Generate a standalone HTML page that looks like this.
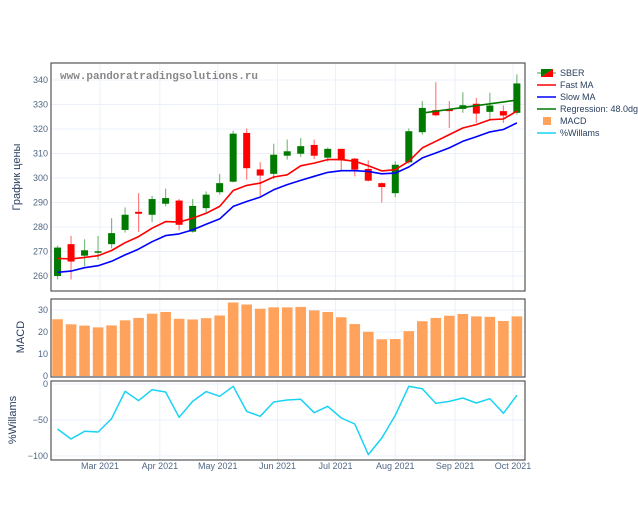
<!DOCTYPE html>
<html><head><meta charset="utf-8"><style>
html,body{margin:0;padding:0;background:#fff;}
svg{display:block;font-family:"Liberation Sans","DejaVu Sans",sans-serif;}
</style></head><body>
<svg id="chart" width="638" height="510" viewBox="0 0 638 510" xmlns="http://www.w3.org/2000/svg"></svg>
<script>
const startDate = "2021-02-07";
const opens  = [260,273,268.3,269.7,273,278.8,286.2,285,289.5,290.8,278.1,287.7,294.2,298.5,318.4,303.5,301.7,309.1,309.9,313.5,308.3,311.9,307.9,303.7,297.9,293.8,306.4,318.7,327.7,327.9,328.2,330.3,327,327.3,326.6];
const closes = [271.6,265.9,270.5,270.1,277.5,285,285.4,291.4,291.8,280.9,288.6,293.2,297.9,318.1,304,301,309.5,310.9,313,309.1,311.9,307.2,303.4,298.9,296.3,305.4,319.1,328.6,325.6,327.3,329.7,326.3,329.6,325.5,338.6];
const highs  = [272.4,276.4,275,276.4,283.6,288,293.8,292.7,295.7,291.4,291.4,294.5,301.7,319.3,320.2,306.5,314,315.7,316.3,315.7,312.4,311.9,308.2,307.2,298.2,306.8,320.2,331.4,339.1,331.4,335,332.7,334.8,329.6,342.3];
const lows   = [258.6,258.6,264,266.5,271.3,277.7,278,282,288.4,278.6,277.7,285.9,293.2,298.2,299.3,292.7,299.6,307.5,308.6,307.7,306.7,303.1,300.7,298.6,290,292.2,305.8,317.7,325.2,320.4,326.6,322.5,323.8,322.5,325.9];
const fastMA = [267.2,267,267.6,268.3,270.4,273.6,276.1,279.5,282.2,282,283.6,285.6,288.4,294.9,297,297.9,300.4,301.3,305,306.1,307.5,307.5,306.8,305,302.9,303.4,306.8,312.3,315,317.7,320.4,321.8,323.8,324.1,327.3];
const slowMA = [261.5,262,263.4,264.2,266,268.6,271,274,276.5,277.2,278.8,281.1,283.3,288.4,290.4,292.2,295.2,297.3,299,300.7,302.3,303,303,302.7,301.7,302,304.5,308.2,310.2,312.3,315,316.8,318.8,319.8,322.5];
const regIdx = [27,34];
const regVals = [326.5,331.8];
const macd = [25.8,23.5,22.9,22.1,23,25.3,26.4,28.3,29.1,26,25.7,26.3,27.5,33.4,32.5,30.6,31.2,31.2,31.4,29.8,29.1,26.7,23.6,20.1,16.7,16.8,20.4,24.9,26.4,27.4,28.2,27.1,26.9,25,27.1];
const willams = [-62.5,-76.4,-65.7,-66.7,-48.1,-10.2,-23.1,-7.9,-11.1,-46.3,-24.1,-10.6,-17.1,-3.2,-38,-44.9,-25,-22.2,-21.3,-39.8,-31,-47.2,-55.6,-98.1,-75,-43.5,-3.2,-6.5,-26.9,-24.1,-19.4,-26.4,-20.4,-40.7,-15.7];
const priceTicks = [260,270,280,290,300,310,320,330,340];
const macdTicks = [0,10,20,30];
const willTicks = [0,-50,-100];
const monthTicks = ["2021-03-01","2021-04-01","2021-05-01","2021-06-01","2021-07-01","2021-08-01","2021-09-01","2021-10-01"];
const monthLabels = ["Mar 2021","Apr 2021","May 2021","Jun 2021","Jul 2021","Aug 2021","Sep 2021","Oct 2021"];

const NS="http://www.w3.org/2000/svg";
const svg=document.getElementById('chart');
function mk(tag,attrs,parent){const e=document.createElementNS(NS,tag);for(const k in attrs)e.setAttribute(k,attrs[k]);(parent||svg).appendChild(e);return e;}
const L=51,R=525;
const dayMs=86400000;
const t0=Date.parse("2021-03-01");
function xDate(s){return 100+(Date.parse(s)-t0)/dayMs*1.93;}
function xIdx(i){return 100+((Date.parse(startDate)-t0)/dayMs+i*7)*1.93;}
function yP(v){return 80+(340-v)*2.45;}
function yM(v){return 376-v*2.2;}
function yW(v){return 384-v*0.72;}
const panels=[[63,291],[299,377],[381,460]];

const grid=mk('g',{});


monthTicks.forEach(d=>{const x=xDate(d);panels.forEach(p=>mk('line',{x1:x,x2:x,y1:p[0],y2:p[1],stroke:'#ebf0f8','stroke-width':1},grid));});
priceTicks.forEach(v=>mk('line',{x1:L,x2:R,y1:yP(v),y2:yP(v),stroke:'#ebf0f8'},grid));
macdTicks.forEach(v=>mk('line',{x1:L,x2:R,y1:yM(v),y2:yM(v),stroke:'#ebf0f8'},grid));
willTicks.forEach(v=>mk('line',{x1:L,x2:R,y1:yW(v),y2:yW(v),stroke:'#ebf0f8'},grid));

const wm=mk('text',{x:60,y:79,'font-family':'"Liberation Mono",monospace','font-size':11,'font-weight':'bold',fill:'#888'});
wm.textContent='www.pandoratradingsolutions.ru';



const cg=mk('g',{});


for(let i=0;i<opens.length;i++){
  const x=xIdx(i),up=closes[i]>=opens[i],col=up?'#007a00':'#ff0000';
  const w=mk('line',{x1:x,x2:x,y1:yP(highs[i]),y2:yP(lows[i]),stroke:col,'stroke-opacity':0.5,'stroke-width':1.2},cg);
  
  
  const t=yP(Math.max(opens[i],closes[i])),b=yP(Math.min(opens[i],closes[i]));
  const r=mk('rect',{x:x-3.5,y:t,width:7,height:Math.max(1.5,b-t),fill:col},cg);
  
  
}
function line(vals,xf,yf,col,name,w){
  const pts=vals.map((v,i)=>xf(i).toFixed(1)+','+yf(v).toFixed(1)).join(' ');
  const p=mk('polyline',{points:pts,fill:'none',stroke:col,'stroke-width':w||1.6,'stroke-linejoin':'round'});
  
  
}
line(fastMA,xIdx,yP,'#ff0000','fast-ma-line');
line(slowMA,xIdx,yP,'#0000ff','slow-ma-line');
line(regVals,i=>xIdx(regIdx[i]),yP,'#007a00','regression-line');

const mg=mk('g',{});


macd.forEach((v,i)=>{const x=xIdx(i);const b=mk('rect',{x:x-5.3,y:yM(v),width:10.6,height:yM(0)-yM(v),fill:'#ffa35c'},mg);
  
  });
line(willams,xIdx,yW,'#19d3f3','willams-line',1.5);

panels.forEach((p,k)=>{const f=mk('rect',{x:L,y:p[0],width:R-L,height:p[1]-p[0],fill:'none',stroke:'#555','stroke-width':1.2});
  
  });

const tg=mk('g',{'font-size':9,fill:'#506784','text-anchor':'end'});


priceTicks.forEach(v=>{mk('text',{x:48,y:yP(v)+3},tg).textContent=v;});
macdTicks.forEach(v=>{mk('text',{x:48,y:yM(v)+3},tg).textContent=v;});
willTicks.forEach(v=>{mk('text',{x:48,y:yW(v)+3},tg).textContent=v===0?'0':'\u2212'+Math.abs(v);});
const xg=mk('g',{'font-size':9,fill:'#506784','text-anchor':'middle'});


monthTicks.forEach((d,i)=>{mk('text',{x:xDate(d),y:469},xg).textContent=monthLabels[i];});

function title(txt,x,y,name){const t=mk('text',{x:x,y:y,'font-size':11,fill:'#2a3f5f','text-anchor':'middle',transform:`rotate(-90 ${x} ${y})`});t.textContent=txt;
  
  }
title('График цены',20,177,'price-axis-title');
title('MACD',24,337,'macd-axis-title');
title('%Willams',16,420,'willams-axis-title');

const lg=mk('g',{'font-size':9,fill:'#2a3f5f'});


const items=[['SBER','candle'],['Fast MA','#ff0000'],['Slow MA','#0000ff'],['Regression: 48.0dg','#007a00'],['MACD','bar'],['%Willams','#19d3f3']];
items.forEach((it,k)=>{const y=73+k*12;const g=mk('g',{},lg);
  
  
  if(it[1]==='candle'){mk('line',{x1:537,x2:556,y1:y,y2:y,stroke:'#7fbf7f','stroke-width':1.5},g);mk('polygon',{points:`541,${y-4} 553,${y-4} 541,${y+4}`,fill:'#007a00'},g);mk('polygon',{points:`553,${y-4} 553,${y+4} 541,${y+4}`,fill:'#ff0000'},g);}
  else if(it[1]==='bar'){mk('rect',{x:543,y:y-4,width:8,height:8,fill:'#ffa35c'},g);}
  else mk('line',{x1:537,x2:556,y1:y,y2:y,stroke:it[1],'stroke-width':1.6},g);
  mk('text',{x:560,y:y+3},g).textContent=it[0];});
</script>
</body></html>
